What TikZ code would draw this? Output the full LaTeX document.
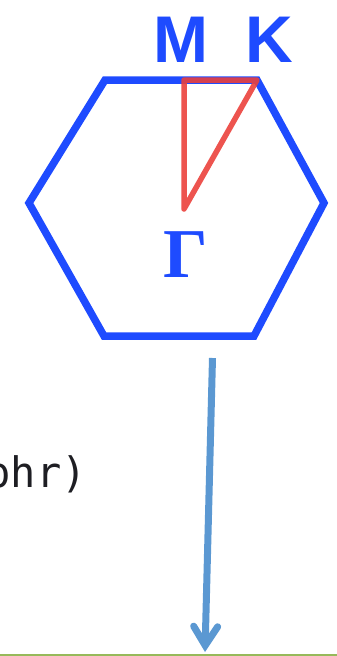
\documentclass[tikz,border=0pt]{standalone}
\usepackage{fontspec}
\usetikzlibrary{arrows.meta}
\newfontfamily\labsans{Liberation Sans}
\newfontfamily\labserif{Liberation Serif}
\newfontfamily\labmono{DejaVu Sans Mono}
\definecolor{hexblue}{RGB}{30,75,255}
\definecolor{trired}{RGB}{235,65,60}
\definecolor{arrowblue}{RGB}{91,152,210}
\definecolor{rulegreen}{RGB}{150,185,90}
\definecolor{textdark}{RGB}{30,30,35}
\begin{document}
\begin{tikzpicture}[x=1pt,y=-1pt,
  hexline/.style={draw=hexblue,line width=7.5pt,line join=miter},
  triline/.style={draw=trired,line width=5.5pt,line join=round,opacity=0.9},
  ptlabel/.style={text=hexblue,inner sep=0pt,anchor=base},
  bigarrow/.style={draw=arrowblue,line width=7pt,-{Straight Barb[length=19pt,width=24pt,line cap=round]}},
  greenrule/.style={draw=rulegreen,line width=2.5pt}]
\useasboundingbox (0,0) rectangle (337,656);
% hexagon
\coordinate (h1) at (105,80);
\coordinate (h2) at (257,80);
\coordinate (h3) at (324,203);
\coordinate (h4) at (254,336);
\coordinate (h5) at (104,336);
\coordinate (h6) at (29,203);
\draw[hexline] (h1) -- (h2) -- (h3) -- (h4) -- (h5) -- (h6) -- cycle;
% red triangle
\coordinate (pM) at (184,80);
\coordinate (pK) at (257,80);
\coordinate (pG) at (184,209);
\draw[triline] (pG) -- (pM) -- (pK) -- cycle;
% labels
\node[ptlabel,font=\labsans\bfseries\fontsize{66}{78}\selectfont] (lM) at (181,62) {M};
\node[ptlabel,font=\labsans\bfseries\fontsize{66}{78}\selectfont] (lK) at (269,62) {K};
\node[ptlabel,font=\labserif\bfseries\fontsize{70}{84}\selectfont] (lG) at (186,277) {Γ};
% partial text (cut at the left edge, as in the reference)
\node[inner sep=0pt,anchor=base west,text=textdark,font=\labmono\fontsize{42}{50}\selectfont] (txt) at (-14.5,487) {phr)};
% arrow
\coordinate (aS) at (212.5,358);
\coordinate (aE) at (205,652);
\draw[bigarrow] (aS) -- (aE);
% green rule
\coordinate (gL) at (0,655);
\coordinate (gR) at (337,655);
\draw[greenrule] (gL) -- (gR);
\end{tikzpicture}
\end{document}
